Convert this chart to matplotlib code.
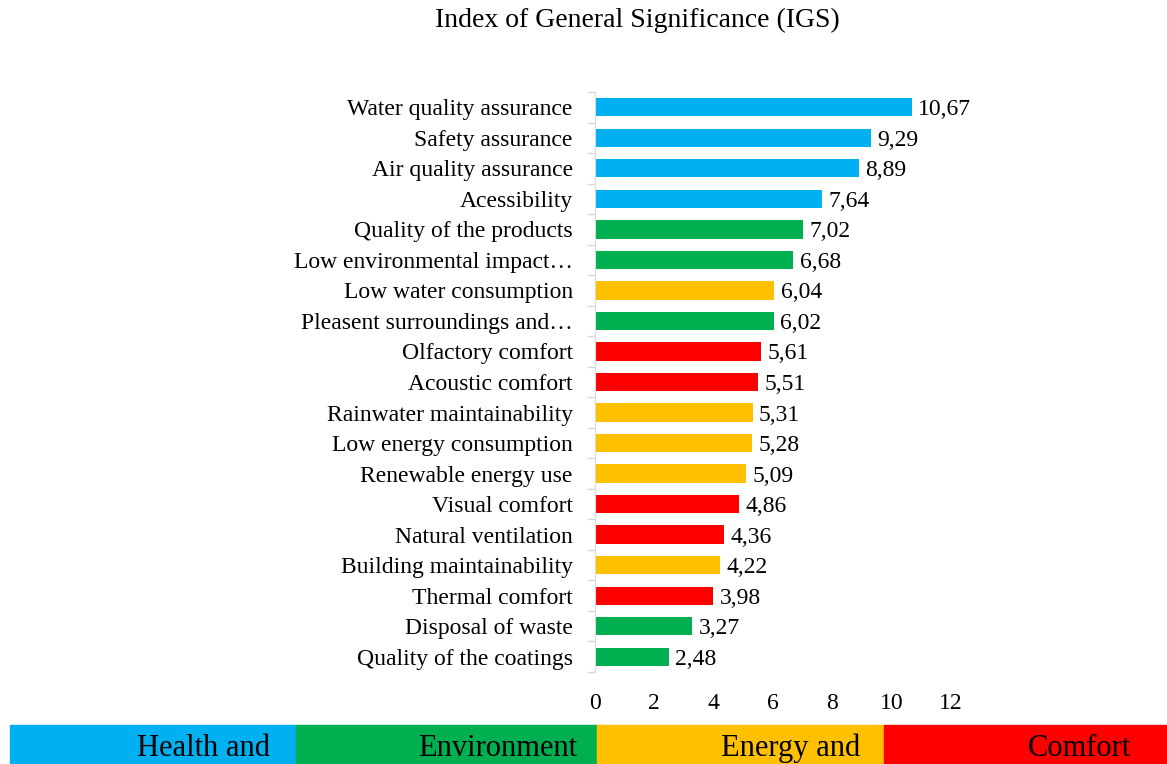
import numpy as np
import matplotlib.pyplot as plt
from matplotlib.patches import Rectangle

plt.rcParams['font.family'] = ['Liberation Serif', 'DejaVu Serif']

# Data (top to bottom)
labels = ['Water quality assurance', 'Safety assurance', 'Air quality assurance',
          'Acessibility', 'Quality of the products', 'Low environmental impact…',
          'Low water consumption', 'Pleasent surroundings and…', 'Olfactory comfort',
          'Acoustic comfort', 'Rainwater maintainability', 'Low energy consumption',
          'Renewable energy use', 'Visual comfort', 'Natural ventilation',
          'Building maintainability', 'Thermal comfort', 'Disposal of waste',
          'Quality of the coatings']
values = [10.67, 9.29, 8.89, 7.64, 7.02, 6.68, 6.04, 6.02, 5.61, 5.51,
          5.31, 5.28, 5.09, 4.86, 4.36, 4.22, 3.98, 3.27, 2.48]
groups = ['H', 'H', 'H', 'H', 'Env', 'Env', 'En', 'Env', 'C', 'C',
          'En', 'En', 'En', 'C', 'C', 'En', 'C', 'Env', 'Env']

group_names = ['Health and', 'Environment', 'Energy and', 'Comfort']
group_keys = ['H', 'Env', 'En', 'C']
group_colors = {'H': '#00B0F0', 'Env': '#00B050', 'En': '#FFC000', 'C': '#FF0000'}
# band segment edges and text right edges in figure pixels
band_edges = [10, 296, 597, 884, 1167]
band_text_right = [270, 577, 860, 1131]

W, H = 1167, 764
fig = plt.figure(figsize=(W / 100, H / 100), dpi=100)
ax = fig.add_axes([595 / W, 1 - 672 / H, (951 - 595) / W, (672 - 92) / H])

n = len(values)
y = np.arange(n)[::-1]
ax.barh(y, values, height=0.6, color=[group_colors[g] for g in groups])
for yi, v in zip(y, values):
    ax.text(v + 0.22, yi, f'{v:.2f}'.replace('.', ','), va='center_baseline', ha='left', fontsize=17)

ax.set_xlim(0, 12)
ax.set_ylim(-0.5, n - 0.5)
ax.set_xticks(range(0, 13, 2))
ax.set_yticks(y)
ax.set_yticklabels(labels)
ax.set_yticks(np.arange(n + 1) - 0.5, minor=True)
ax.tick_params(axis='y', which='major', length=0, pad=16, labelsize=17)
ax.tick_params(axis='y', which='minor', length=6, color='#d9d9d9', width=1)
ax.tick_params(axis='x', length=0, pad=15, labelsize=17)
for s in ['top', 'right', 'bottom']:
    ax.spines[s].set_visible(False)
ax.spines['left'].set_color('#d9d9d9')

fig.text(637 / W, 1 - 20 / H, 'Index of General Significance (IGS)', ha='center', va='center', fontsize=20)

# category band at bottom
for i, (k, name) in enumerate(zip(group_keys, group_names)):
    x0, x1 = band_edges[i], band_edges[i + 1]
    fig.patches.append(Rectangle((x0 / W, 0), (x1 - x0) / W, 39 / H, transform=fig.transFigure,
                                 color=group_colors[k], zorder=0))
    fig.text(band_text_right[i] / W, 16 / H, name, ha='right', va='center', fontsize=22)

fig.savefig('out.png', dpi=100)
